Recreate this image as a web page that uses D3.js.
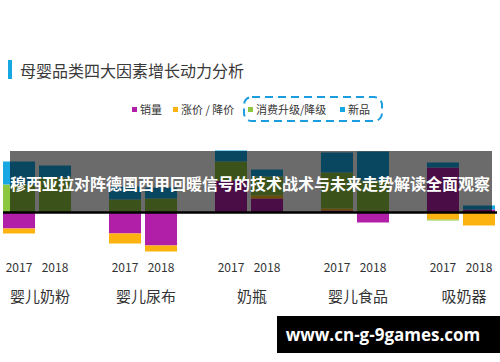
<!DOCTYPE html>
<html>
<head>
<meta charset="utf-8">
<script src="https://cdn.jsdelivr.net/npm/d3@7"></script>
<style>
  body { margin: 0; background: #fff; }
  svg { display: block; font-family: "Noto Sans CJK SC", "Noto Sans", sans-serif; }
</style>
</head>
<body>
<svg id="chart" width="500" height="362"></svg>
<script>
// categories and years
const categories = ["婴儿奶粉", "婴儿尿布", "奶瓶", "婴儿食品", "吸奶器"];
const years = ["2017", "2018"];
const seriesNames = ["销量", "涨价 / 降价", "消费升级/降级", "新品"];
const seriesKeys = ["sales", "price", "upgrade", "newprod"];
const seriesColors = ["#b11fa8", "#fdb30f", "#8dc63f", "#17a8e3"];

// contribution values, one entry per bar (category x year)
const sales   = [-8,  0,  -10.5, -16.5, 16,  7,   1,   -5,   22.5, 1.5];
const price   = [-2.5, 0, -5,    -3,    0,   1.5, 1,   0,    -3.5, -6.5];
const upgrade = [14, 17.5, 6.5,  7,     9.5, 9.5, 18,  16,   -0.5, 0];
const newprod = [11.5, 6,  6.5,  5.5,   5.5, 3.5, 10,  14.5, 2.5,  2];

const title = "母婴品类四大因素增长动力分析";
const overlayText = "穆西亚拉对阵德国西甲回暖信号的技术战术与未来走势解读全面观察";
const watermark = "www.cn-g-9games.com";

const svg = d3.select("#chart");

// build rows for the stack
const rows = [];
categories.forEach((c, i) => {
  years.forEach((yr, j) => {
    const k = i * 2 + j;
    rows.push({ cat: c, year: yr, sales: sales[k], price: price[k], upgrade: upgrade[k], newprod: newprod[k] });
  });
});

const stack = d3.stack().keys(seriesKeys).offset(d3.stackOffsetDiverging);
const stacked = stack(rows);

const x0 = d3.scaleBand().domain(categories).range([3, 495]).paddingInner(0.358).paddingOuter(0);
const x1 = d3.scaleBand().domain(years).range([0, x0.bandwidth()]).paddingInner(0.111);
const y = d3.scaleLinear().domain([-20, 32]).range([252.5, 148.5]);

// title
svg.append("rect").attr("x", 8).attr("y", 60).attr("width", 4).attr("height", 19).attr("fill", "#17a8e3");
svg.append("text").attr("x", 20).attr("y", 71).attr("dy", "0.35em")
  .attr("font-size", 16).attr("fill", "#3a3a3a").text(title);

// legend
const legendX = [132, 173, 248, 340];
const legend = svg.append("g");
seriesNames.forEach((name, i) => {
  legend.append("rect").attr("x", legendX[i]).attr("y", 107).attr("width", 5).attr("height", 5).attr("fill", seriesColors[i]);
  legend.append("text").attr("x", legendX[i] + 8).attr("y", 110).attr("dy", "0.35em")
    .attr("font-size", 11).attr("fill", "#333").text(name);
});
legend.append("rect").attr("x", 244).attr("y", 97).attr("width", 138).attr("height", 24)
  .attr("rx", 8).attr("fill", "none").attr("stroke", "#1a9ee0").attr("stroke-width", 2)
  .attr("stroke-dasharray", "8 5");

// bars
const layers = svg.append("g").selectAll("g").data(stacked).join("g")
  .attr("fill", (d, i) => seriesColors[i]);
layers.selectAll("rect").data(d => d).join("rect")
  .attr("x", d => x0(d.data.cat) + x1(d.data.year))
  .attr("width", x1.bandwidth())
  .attr("y", d => y(Math.max(d[0], d[1])))
  .attr("height", d => Math.abs(y(d[0]) - y(d[1])));

// year labels
svg.append("g").selectAll("text").data(rows).join("text")
  .attr("x", d => x0(d.cat) + x1(d.year) + x1.bandwidth() / 2)
  .attr("y", 268).attr("dy", "0.35em").attr("text-anchor", "middle")
  .attr("font-size", 12).attr("fill", "#333").text(d => d.year);

// category labels
svg.append("g").selectAll("text").data(categories).join("text")
  .attr("x", d => x0(d) + x0.bandwidth() / 2 + 3)
  .attr("y", 297).attr("dy", "0.35em").attr("text-anchor", "middle")
  .attr("font-size", 15).attr("fill", "#333").text(d => d);

// dark overlay band with headline
svg.append("rect").attr("x", 10).attr("y", 151).attr("width", 482).attr("height", 61)
  .attr("fill", "rgba(0,0,0,0.58)");
svg.append("text").attr("x", 10).attr("y", 184).attr("dy", "0.35em")
  .attr("font-size", 16).attr("font-weight", "bold").attr("fill", "#fff")
  .attr("textLength", 480).text(overlayText);

// zero line
svg.append("line").attr("x1", 3).attr("x2", 497).attr("y1", y(0)).attr("y2", y(0))
  .attr("stroke", "#000").attr("stroke-width", 2.5);

// watermark
svg.append("rect").attr("x", 277).attr("y", 316).attr("width", 223).attr("height", 37).attr("fill", "#000");
svg.append("text").attr("x", 383).attr("y", 335).attr("dy", "0.35em").attr("text-anchor", "middle")
  .attr("font-family", "'Open Sans', sans-serif").attr("font-size", 17).attr("font-weight", "bold")
  .attr("fill", "#fff").text(watermark);
</script>
</body>
</html>
